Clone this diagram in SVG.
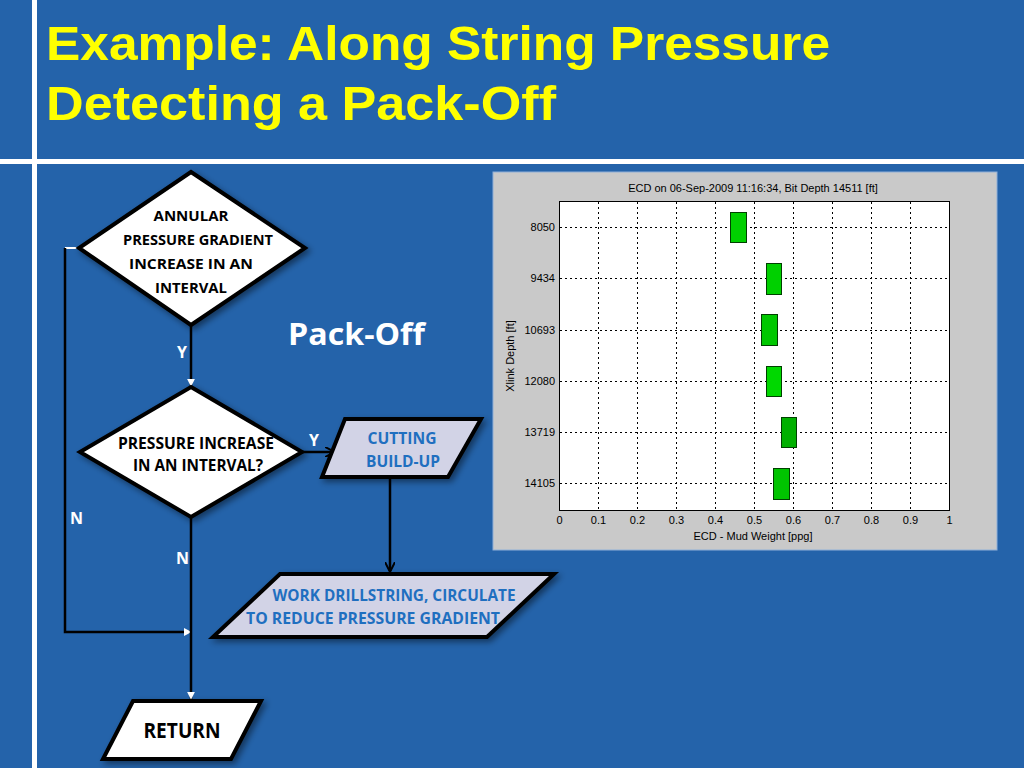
<svg xmlns="http://www.w3.org/2000/svg" width="1024" height="768" viewBox="0 0 1024 768">
<defs>
<filter id="sh" x="-20%" y="-20%" width="140%" height="140%">
<feDropShadow dx="3" dy="3" stdDeviation="3" flood-color="#000" flood-opacity="0.45"/>
</filter>
<marker id="wa" viewBox="0 0 10 10" refX="9" refY="5" markerWidth="3.2" markerHeight="3.2" orient="auto" markerUnits="strokeWidth">
<path d="M0,0 L10,5 L0,10 z" fill="#fff"/>
</marker>
<marker id="ba" viewBox="0 0 10 10" refX="9" refY="5" markerWidth="4" markerHeight="4" orient="auto" markerUnits="strokeWidth">
<path d="M0,0 L10,5 L0,10" fill="none" stroke="#000" stroke-width="2"/>
</marker>
<style>
.title{font-family:"Liberation Sans",Arial,sans-serif;font-weight:bold;font-size:49px;fill:#FFFF00}
.shape{stroke:#000;stroke-width:4;stroke-linejoin:miter;filter:url(#sh)}
.wf{fill:#fff}
.lf{fill:#D2D3E6}
.nt{font-family:"Open Sans","Noto Sans",sans-serif;font-weight:bold;font-size:15px;text-anchor:middle;fill:#000}
.nt16{font-size:16px}
.nt21{font-size:21px}
.bt{font-family:"Open Sans","Noto Sans",sans-serif;font-weight:bold;font-size:16px;text-anchor:middle;fill:#1F6FC0}
.lbl{font-family:"Open Sans","Noto Sans",sans-serif;font-weight:bold;font-size:16px;fill:#fff}
.conn{stroke:#000;stroke-width:2.5;fill:none}
.ct{font-family:"Liberation Sans",Arial,sans-serif;font-size:11px;fill:#000}
.grid{stroke:#000;stroke-width:1;stroke-dasharray:2,3}
.bar{stroke:#004000;stroke-width:1}
</style>
</defs>
<rect x="0" y="0" width="1024" height="768" fill="#2463AA"/>
<rect x="32" y="0" width="5" height="768" fill="#fff"/>
<rect x="0" y="159" width="1024" height="5" fill="#fff"/>
<g id="title">
<text class="title" x="46" y="60" textLength="784" lengthAdjust="spacingAndGlyphs">Example: Along String Pressure</text>
<text class="title" x="46" y="120" textLength="510" lengthAdjust="spacingAndGlyphs">Detecting a Pack-Off</text>
</g>
<g id="packoff-label">
<text x="288" y="345" font-family="'Open Sans','Noto Sans',sans-serif" font-weight="bold" font-size="31" fill="#fff" textLength="137" lengthAdjust="spacingAndGlyphs">Pack-Off</text>
</g>
<g id="connectors">
<polyline class="conn" points="191,325 191,386" marker-end="url(#wa)"/>
<line x1="79" y1="248" x2="65" y2="248" stroke="#fff" stroke-width="2"/>
<polyline class="conn" points="65,248 65,632 191,632" marker-end="url(#wa)"/>
<polyline class="conn" points="191,517 191,699" marker-end="url(#wa)"/>
<polyline class="conn" points="302,452 334,452" marker-end="url(#ba)"/>
<polyline class="conn" points="390,477 390,571" marker-end="url(#ba)"/>
<text class="lbl" x="177" y="358">Y</text>
<text class="lbl" x="309" y="446">Y</text>
<text class="lbl" x="70" y="524">N</text>
<text class="lbl" x="176" y="564">N</text>
</g>
<g id="decision1">
<polygon class="shape wf" points="191,172 305,248 191,325 79,248"/>
<text class="nt" x="191" y="221" textLength="75" lengthAdjust="spacingAndGlyphs">ANNULAR</text>
<text class="nt" x="198" y="245" textLength="150" lengthAdjust="spacingAndGlyphs">PRESSURE GRADIENT</text>
<text class="nt" x="191" y="269" textLength="124" lengthAdjust="spacingAndGlyphs">INCREASE IN AN</text>
<text class="nt" x="191" y="293" textLength="72" lengthAdjust="spacingAndGlyphs">INTERVAL</text>
</g>
<g id="decision2">
<polygon class="shape wf" points="191,387 302,452 191,517 80,452"/>
<text class="nt nt16" x="196" y="449" textLength="156" lengthAdjust="spacingAndGlyphs">PRESSURE INCREASE</text>
<text class="nt nt16" x="198" y="471" textLength="130" lengthAdjust="spacingAndGlyphs">IN AN INTERVAL?</text>
</g>
<g id="cutting">
<polygon class="shape lf" points="345,419 481,419 448,477 322,477"/>
<text class="bt" x="402" y="444" textLength="69" lengthAdjust="spacingAndGlyphs">CUTTING</text>
<text class="bt" x="403" y="467" textLength="74" lengthAdjust="spacingAndGlyphs">BUILD-UP</text>
</g>
<g id="work">
<polygon class="shape lf" points="280,574 554,574 487,637 213,637"/>
<text class="bt" x="394" y="601" textLength="243" lengthAdjust="spacingAndGlyphs">WORK DRILLSTRING, CIRCULATE</text>
<text class="bt" x="373" y="624" textLength="254" lengthAdjust="spacingAndGlyphs">TO REDUCE PRESSURE GRADIENT</text>
</g>
<g id="return">
<polygon class="shape wf" points="133,701 261,701 231,759 103,759"/>
<text class="nt nt21" x="182" y="738" textLength="77" lengthAdjust="spacingAndGlyphs">RETURN</text>
</g>
<g id="chart">
<rect x="493" y="172" width="504" height="378" fill="#C9C9C9" stroke="#8FB0D8" stroke-width="1"/>
<rect x="559.5" y="201.5" width="390" height="309" fill="#fff" stroke="#000" stroke-width="1"/>
<g class="grid">
<line x1="598.5" y1="202" x2="598.5" y2="510"/>
<line x1="637.5" y1="202" x2="637.5" y2="510"/>
<line x1="676.5" y1="202" x2="676.5" y2="510"/>
<line x1="715.5" y1="202" x2="715.5" y2="510"/>
<line x1="754.5" y1="202" x2="754.5" y2="510"/>
<line x1="793.5" y1="202" x2="793.5" y2="510"/>
<line x1="832.5" y1="202" x2="832.5" y2="510"/>
<line x1="871.5" y1="202" x2="871.5" y2="510"/>
<line x1="910.5" y1="202" x2="910.5" y2="510"/>
<line x1="560" y1="227.5" x2="949" y2="227.5"/>
<line x1="560" y1="278.5" x2="949" y2="278.5"/>
<line x1="560" y1="330.5" x2="949" y2="330.5"/>
<line x1="560" y1="381.5" x2="949" y2="381.5"/>
<line x1="560" y1="432.5" x2="949" y2="432.5"/>
<line x1="560" y1="483.5" x2="949" y2="483.5"/>
</g>
<rect class="bar" x="730.5" y="212.5" width="16" height="30" fill="#00D000"/>
<rect class="bar" x="766.5" y="263.5" width="15" height="31" fill="#00D000"/>
<rect class="bar" x="761.5" y="314.5" width="16" height="31" fill="#00C800"/>
<rect class="bar" x="766.5" y="366.5" width="15" height="30" fill="#00D800"/>
<rect class="bar" x="781.5" y="417.5" width="15" height="30" fill="#00B000"/>
<rect class="bar" x="773.5" y="468.5" width="16" height="31" fill="#00C400"/>
<text class="ct" x="753" y="192" text-anchor="middle">ECD on 06-Sep-2009 11:16:34, Bit Depth 14511 [ft]</text>
<g text-anchor="end">
<text class="ct" x="555" y="231">8050</text>
<text class="ct" x="555" y="282">9434</text>
<text class="ct" x="555" y="334">10693</text>
<text class="ct" x="555" y="385">12080</text>
<text class="ct" x="555" y="436">13719</text>
<text class="ct" x="555" y="487">14105</text>
</g>
<g text-anchor="middle">
<text class="ct" x="559.5" y="524">0</text>
<text class="ct" x="598.5" y="524">0.1</text>
<text class="ct" x="637.5" y="524">0.2</text>
<text class="ct" x="676.5" y="524">0.3</text>
<text class="ct" x="715.5" y="524">0.4</text>
<text class="ct" x="754.5" y="524">0.5</text>
<text class="ct" x="793.5" y="524">0.6</text>
<text class="ct" x="832.5" y="524">0.7</text>
<text class="ct" x="871.5" y="524">0.8</text>
<text class="ct" x="910.5" y="524">0.9</text>
<text class="ct" x="949.5" y="524">1</text>
<text class="ct" x="753" y="540">ECD - Mud Weight [ppg]</text>
<text class="ct" x="0" y="0" transform="translate(514,356) rotate(-90)">Xlink Depth [ft]</text>
</g>
</g>
</svg>
